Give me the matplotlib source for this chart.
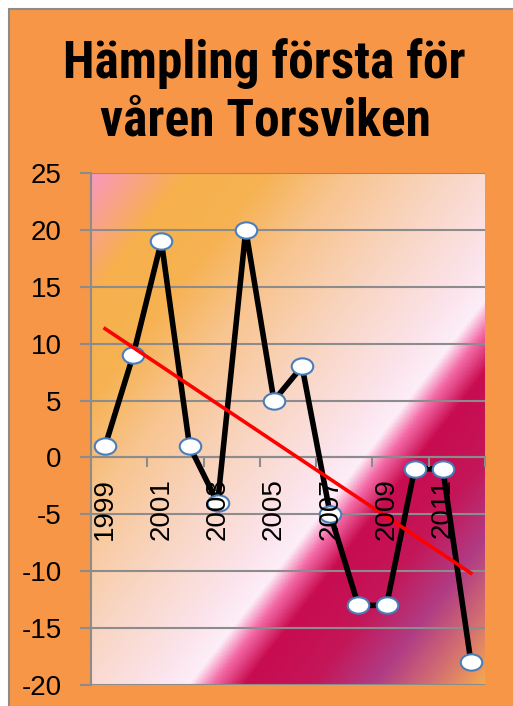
import numpy as np
import matplotlib
matplotlib.use("Agg")
import matplotlib.pyplot as plt
from matplotlib.colors import LinearSegmentedColormap
from matplotlib.patches import Rectangle
from matplotlib.path import Path

plt.rcParams["axes.unicode_minus"] = False

# ---- data ----
years = ["1999", "2000", "2001", "2002", "2003", "2004", "2005",
         "2006", "2007", "2008", "2009", "2010", "2011", "2012"]
values = [1, 9, 19, 1, -4, 20, 5, 8, -5, -13, -13, -1, -1, -18]
title_lines = ["Hämpling första för", "våren Torsviken"]
y_ticks = [-20, -15, -10, -5, 0, 5, 10, 15, 20, 25]

W, H = 513, 706
fig = plt.figure(figsize=(W / 100, H / 100), dpi=100, facecolor="white")

# orange chart area with grey border
bg = Rectangle((9 / W, -0.05), 1.1, 1 - 9 / H + 0.05, transform=fig.transFigure,
               facecolor="#f79646", edgecolor="#8c8c8c", linewidth=1.5, zorder=-10)
fig.patches.append(bg)

ax = fig.add_axes([91 / W, 1 - 685 / H, (485 - 91) / W, (685 - 173) / H])
ax.set_zorder(1)
ax.set_facecolor("none")

x = np.arange(len(values))

# gradient background (diagonal)
stops = [
    (0.00, "#fa98bc"),
    (0.12, "#f7b04c"),
    (0.22, "#f6b252"),
    (0.32, "#f8c48e"),
    (0.46, "#f9d6c4"),
    (0.58, "#fce4ec"),
    (0.625, "#fdeef8"),
    (0.655, "#f36aa6"),
    (0.695, "#c80c50"),
    (0.78, "#c41658"),
    (0.86, "#b03c84"),
    (0.93, "#d26e72"),
    (1.00, "#f5a850"),
]
cmap = LinearSegmentedColormap.from_list("fire", stops)
nu, nv = 400, 520
u = np.linspace(0, 1, nu)[None, :]
v = np.linspace(0, 1, nv)[:, None]
s = (u + v) / 2.0
ax.imshow(s, cmap=cmap, vmin=0, vmax=1, aspect="auto", origin="upper",
          extent=[-0.5, len(values) - 0.5, -20, 25], zorder=0, interpolation="bilinear")
ax.set_xlim(-0.5, len(values) - 0.5)
ax.set_ylim(-20, 25)

grey = "#8c8c8c"
ax.set_yticks(y_ticks)
ax.yaxis.grid(True, color=grey, linewidth=1.5)
ax.set_axisbelow(True)

for side in ["top", "right"]:
    ax.spines[side].set_visible(False)
ax.spines["left"].set_color(grey)
ax.spines["left"].set_linewidth(1.5)
ax.spines["bottom"].set_position(("data", 0))
ax.spines["bottom"].set_color(grey)
ax.spines["bottom"].set_linewidth(1.5)

ax.tick_params(axis="y", length=8, width=1.5, color=grey, pad=13,
               labelsize=20, labelcolor="black")
for lab in ax.get_yticklabels():
    lab.set_fontfamily("Liberation Sans")

# x ticks: marks at category boundaries, labels on every second year
ax.set_xticks(np.arange(-0.5, len(values), 2), minor=True)
ax.set_xticks(x[::2])
ax.set_xticklabels(years[::2], rotation=90, fontsize=20, family="Liberation Sans")
ax.tick_params(axis="x", which="major", length=0, pad=15)
ax.tick_params(axis="x", which="minor", length=7, width=1.5, color=grey, direction="out")
ax.xaxis.set_zorder(6)

# ellipse marker
circ = Path.unit_circle()
ell = Path(circ.vertices * np.array([1.0, 0.76]), circ.codes)

ax.plot(x, values, color="black", linewidth=4.0, marker=ell, markersize=15.5,
        markerfacecolor="white", markeredgecolor="#4a7ebb", markeredgewidth=1.5,
        zorder=3, clip_on=False)

# linear trend line
k, m = np.polyfit(x, values, 1)
ax.plot(x, k * x + m, color="#ff0000", linewidth=2.6, zorder=4)

# title
tfam = ["Roboto Condensed", "Liberation Serif"]
fig.text(264 / W, 1 - 78 / H, title_lines[0], ha="center", va="baseline",
         fontsize=37, fontweight=900, family=tfam)
fig.text(265 / W, 1 - 135 / H, title_lines[1], ha="center", va="baseline",
         fontsize=37, fontweight=900, family=tfam)

fig.savefig("out.png", dpi=100)
